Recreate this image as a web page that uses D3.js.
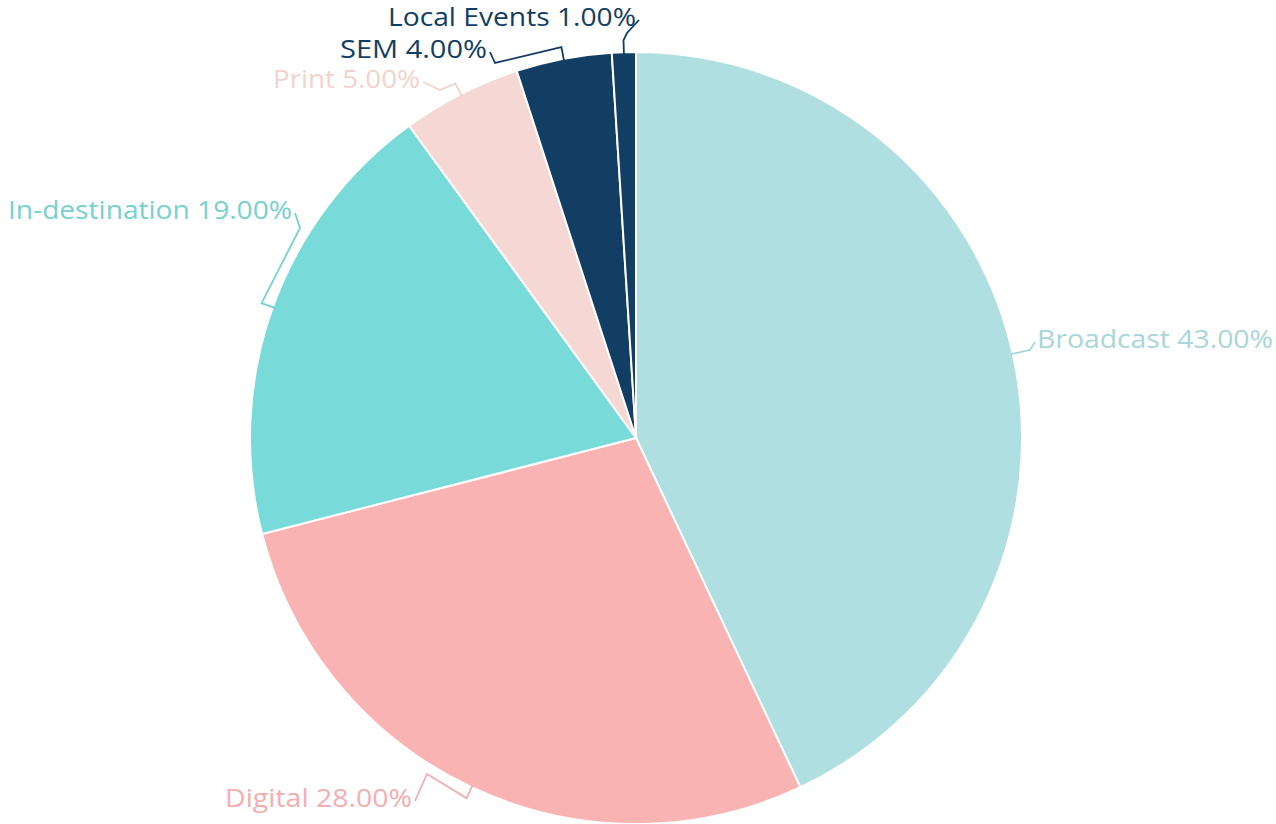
<!DOCTYPE html>
<html>
<head>
<meta charset="utf-8">
<script src="https://cdn.jsdelivr.net/npm/d3@7"></script>
<style>
  body { margin: 0; background: #fff; }
  text { font-family: "Open Sans", sans-serif; }
</style>
</head>
<body>
<div id="vis-container"></div>
<script>
// ------------------------------ DATA ------------------------------ //
const channels = ["Broadcast", "Digital", "In-destination", "Print", "SEM", "Local Events"];
const shares = [43, 28, 19, 5, 4, 1];
const sliceColors = ["#b0dfe1", "#f9b3b3", "#78dad9", "#f5d8d3", "#123e64", "#123e64"];
const labelColors = ["#a9d6d8", "#f4aeb0", "#74d2d1", "#f2d2cd", "#123e64", "#123e64"];

// ------------------------------ SET UP ------------------------------ //
const width = 1276;
const height = 824;
const cx = 636;
const cy = 438;
const radius = 386;

// label anchor, text anchor, fitted width, and leader elbow (layout only)
const labelLayout = [
  { x: 1037, y: 348, anchor: "start", w: 236, elbow: [1030, 350] },
  { x: 412, y: 807, anchor: "end", w: 187, elbow: [427, 774] },
  { x: 292, y: 219, anchor: "end", w: 284, elbow: [300, 228] },
  { x: 420, y: 88, anchor: "end", w: 147, elbow: [440, 90] },
  { x: 487, y: 58, anchor: "end", w: 147, elbow: [495, 63] },
  { x: 636, y: 26, anchor: "end", w: 248, elbow: [627, 33] }
];

const svg = d3.select("#vis-container")
  .append("svg")
  .attr("width", width)
  .attr("height", height);

const g = svg.append("g")
  .attr("transform", `translate(${cx},${cy})`);

const data = channels.map((c, i) => ({ name: c, value: shares[i], i: i }));

const pie = d3.pie()
  .value(d => d.value)
  .sort(null);

const arc = d3.arc()
  .innerRadius(0)
  .outerRadius(radius);

const arcs = pie(data);

// Slices
g.selectAll(".slice")
  .data(arcs)
  .enter()
  .append("path")
  .attr("class", "slice")
  .attr("d", arc)
  .attr("fill", d => sliceColors[d.data.i])
  .attr("stroke", "#fff")
  .attr("stroke-width", 2);

// point on a circle of radius r at the slice's mid angle
function polar(d, r) {
  const a = (d.startAngle + d.endAngle) / 2;
  return [cx + r * Math.sin(a), cy - r * Math.cos(a)];
}

// Leader lines
svg.selectAll(".leader")
  .data(arcs)
  .enter()
  .append("polyline")
  .attr("class", "leader")
  .attr("fill", "none")
  .attr("stroke", d => labelColors[d.data.i])
  .attr("stroke-width", 1.8)
  .attr("points", d => {
    const L = labelLayout[d.data.i];
    const p0 = polar(d, radius - 2);
    const p1 = polar(d, radius + 12);
    return [p0, p1, L.elbow, [L.anchor === "end" ? L.x + 3 : L.x - 2, L.y - 6]]
      .map(p => p.join(",")).join(" ");
  });

// Labels
svg.selectAll(".label")
  .data(arcs)
  .enter()
  .append("text")
  .attr("class", "label")
  .attr("x", d => labelLayout[d.data.i].x)
  .attr("y", d => labelLayout[d.data.i].y)
  .attr("text-anchor", d => labelLayout[d.data.i].anchor)
  .attr("textLength", d => labelLayout[d.data.i].w)
  .attr("lengthAdjust", "spacingAndGlyphs")
  .attr("font-size", 25)
  .attr("fill", d => labelColors[d.data.i])
  .text(d => d.data.name + " " + d.data.value.toFixed(2) + "%");
</script>
</body>
</html>
